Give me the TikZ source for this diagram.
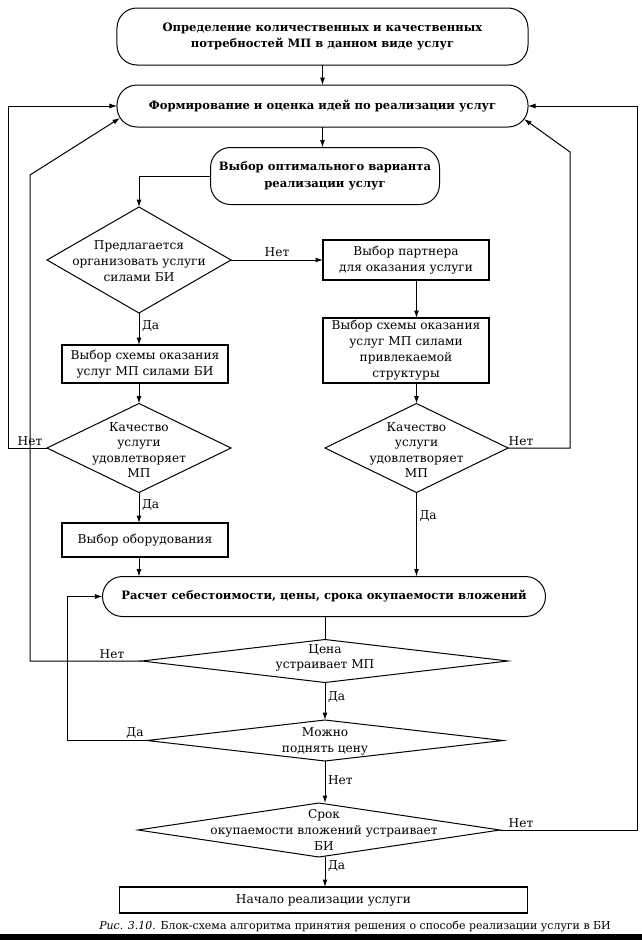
\documentclass[tikz,border=0pt]{standalone}
\usepackage{fontspec}
\setmainfont{DejaVu Serif}
\usetikzlibrary{shapes.geometric,arrows.meta}
\begin{document}
\begin{tikzpicture}[x=1bp,y=-1bp,
  every node/.style={inner sep=0pt, outer sep=0pt},
  rbox/.style={draw, line width=1bp, rounded corners=20bp, font=\fontsize{11.6}{17}\selectfont\bfseries, align=center},
  rect/.style={draw, line width=1.5bp, font=\fontsize{12.2}{16}\selectfont, align=center},
  dia/.style={draw, diamond, line width=1bp},
  dtext/.style={font=\fontsize{12.2}{16}\selectfont, align=center},
  lab/.style={font=\fontsize{12.2}{15}\selectfont},
  arr/.style={line width=1bp, -{Latex[length=7.5bp,width=5bp]}},
  ln/.style={line width=1bp},
]
\useasboundingbox (0,0) rectangle (642,940);
\fill[white] (0,0) rectangle (642,940);

% rounded boxes
\node[rbox, minimum width=411bp, minimum height=57bp] (top) at (322.5,36.5) {Определение количественных и качественных\\потребностей МП в данном виде услуг};
\node[rbox, minimum width=411bp, minimum height=42bp] (form) at (322.5,106) {Формирование и оценка идей по реализации услуг};
\node[rbox, minimum width=229bp, minimum height=57bp] (opt) at (325,176) {Выбор оптимального варианта\\реализации услуг};

% left column
\node[dia, minimum width=184bp, minimum height=106bp] (d1) at (139,260) {};
\node[dtext] (d1t) at (139,261) {Предлагается\\организовать услуги\\силами БИ};
\node[rect, minimum width=166bp, minimum height=38bp] (schL) at (145,364) {Выбор схемы оказания\\услуг МП силами БИ};
\node[dia, minimum width=184bp, minimum height=89bp] (d2L) at (139,448) {};
\node[dtext, font=\fontsize{12.2}{15.5}\selectfont] (d2Lt) at (139,450) {Качество\\услуги\\удовлетворяет\\МП};
\node[rect, minimum width=166bp, minimum height=34bp] (equip) at (145,540) {Выбор оборудования};

% right column
\node[rect, minimum width=166bp, minimum height=40bp] (partner) at (406,260) {Выбор партнера\\для оказания услуги};
\node[rect, minimum width=166bp, minimum height=65bp] (schR) at (406,350.5) {Выбор схемы оказания\\услуг МП силами\\привлекаемой\\структуры};
\node[dia, minimum width=183bp, minimum height=89bp] (d2R) at (416.5,448) {};
\node[dtext, font=\fontsize{12.2}{15.5}\selectfont] (d2Rt) at (416.5,450) {Качество\\услуги\\удовлетворяет\\МП};

% bottom part
\node[rbox, minimum width=443bp, minimum height=40bp] (calc) at (324,596.5) {Расчет себестоимости, цены, срока окупаемости вложений};
\node[dia, minimum width=366bp, minimum height=43bp] (dc) at (325,661) {};
\node[dtext, font=\fontsize{12.2}{15}\selectfont] (dct) at (325,658) {Цена\\устраивает МП};
\node[dia, minimum width=356bp, minimum height=41bp] (dm) at (325,740.5) {};
\node[dtext, font=\fontsize{12.2}{16}\selectfont] (dmt) at (325,741) {Можно\\поднять цену};
\node[dia, minimum width=362bp, minimum height=54bp] (ds) at (319,830) {};
\node[dtext, font=\fontsize{12.2}{16}\selectfont] (dst) at (324,830) {Срок\\окупаемости вложений устраивает\\БИ};
\node[rect, minimum width=408bp, minimum height=26bp] (start) at (323.5,900) {Начало реализации услуги};

\node[font=\fontsize{11}{13}\selectfont] (cap) at (355,926) {{\itshape Рис. 3.10.} Блок-схема алгоритма принятия решения о способе реализации услуги в БИ};
\fill[black] (0,934) rectangle (642,940);

% corner coordinates
\coordinate (fl) at (120,118);
\coordinate (fr) at (524,119);
\coordinate (lo1) at (8,448);
\coordinate (lo2) at (30,661);
\coordinate (lo2t) at (30,175);
\coordinate (lo3) at (67,740.5);
\coordinate (ro1) at (570,448);
\coordinate (ro1t) at (570,152);
\coordinate (ro2) at (637,830);

% main flow
\draw[arr] (top) -- (form);
\draw[arr] (form.south) -- (form.south |- opt.north);
\draw[arr] (opt.west) -| (d1.north);
\draw[arr] (d1.east) -- (d1.east -| partner.west) node[lab, midway, above=3bp] {Нет};
\draw[arr] (d1.south) -- (d1.south |- schL.north) node[lab, pos=0.4, right=3bp] {Да};
\draw[arr] (d1.south |- schL.south) -- (d2L.north);
\draw[arr] (d2L.south) -- (d2L.south |- equip.north) node[lab, pos=0.4, right=3bp] {Да};
\draw[arr] (d2L.south |- equip.south) -- (d2L.south |- calc.north);
\draw[arr] (d2R.north |- partner.south) -- (d2R.north |- schR.north);
\draw[arr] (d2R.north |- schR.south) -- (d2R.north);
\draw[arr] (d2R.south) -- (d2R.south |- calc.north) node[lab, pos=0.28, right=3bp] {Да};
\draw[ln] (calc.south -| dc.north) -- (dc.north);
\draw[arr] (dc.south) -- (dm.north) node[lab, pos=0.4, right=3bp] {Да};
\draw[arr] (dm.south) -- (dm.south |- ds.north) node[lab, pos=0.45, right=3bp] {Нет};
\draw[arr] (ds.south -| dm.south) -- (dm.south |- start.north) node[lab, pos=0.3, right=3bp] {Да};

% feedback loops
\draw[arr] (d2L.west) -- (lo1) |- (form.west);
\node[lab, above=2bp] (n1) at (30,448) {Нет};
\draw[arr] (dc.west) -- (lo2) -- (lo2t) -- (fl);
\node[lab, above=2bp] (n2) at (112,661) {Нет};
\draw[arr] (dm.west) -- (lo3) |- (calc.west);
\node[lab, above=2bp] (n3) at (135,740.5) {Да};
\draw[arr] (d2R.east) -- (ro1) -- (ro1t) -- (fr);
\node[lab, above=2bp] (n4) at (521,448) {Нет};
\draw[arr] (ds.east) -- (ro2) |- (form.east);
\node[lab, above=2bp] (n5) at (521,830) {Нет};
\end{tikzpicture}
\end{document}
